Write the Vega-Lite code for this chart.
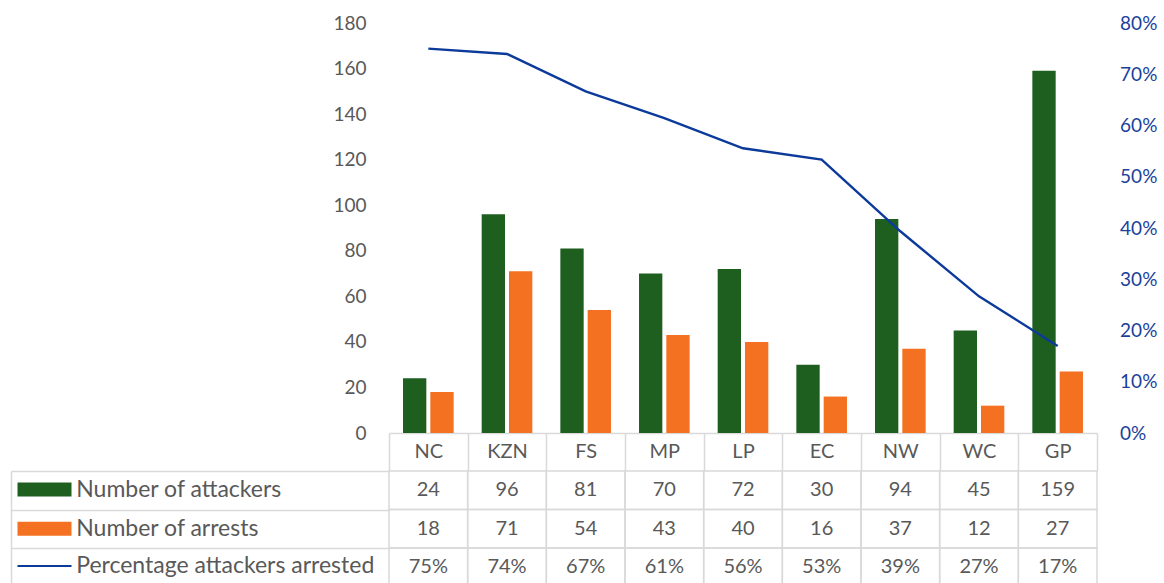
{
  "$schema": "https://vega.github.io/schema/vega-lite/v6.json",
  "padding": {"left": 10, "top": 14, "right": 5, "bottom": 0},
  "config": {"font": "Lato", "view": {"stroke": null}},
  "datasets": {
    "prov": [
      {"cat": "NC", "attackers": 24, "arrests": 18, "pct": 0.75},
      {"cat": "KZN", "attackers": 96, "arrests": 71, "pct": 0.7396},
      {"cat": "FS", "attackers": 81, "arrests": 54, "pct": 0.6667},
      {"cat": "MP", "attackers": 70, "arrests": 43, "pct": 0.6143},
      {"cat": "LP", "attackers": 72, "arrests": 40, "pct": 0.5556},
      {"cat": "EC", "attackers": 30, "arrests": 16, "pct": 0.5333},
      {"cat": "NW", "attackers": 94, "arrests": 37, "pct": 0.3936},
      {"cat": "WC", "attackers": 45, "arrests": 12, "pct": 0.2667},
      {"cat": "GP", "attackers": 159, "arrests": 27, "pct": 0.1698}
    ]
  },
  "spacing": 38,
  "bounds": "flush",
  "vconcat": [
    {
      "width": 708,
      "height": 410,
      "data": {"name": "prov"},
      "layer": [
        {
          "transform": [{"fold": ["attackers", "arrests"], "as": ["series", "count"]}],
          "mark": {"type": "bar"},
          "encoding": {
            "x": {
              "field": "cat", "type": "nominal", "sort": null,
              "scale": {"domain": ["NC", "KZN", "FS", "MP", "LP", "EC", "NW", "WC", "GP"], "paddingInner": 0, "paddingOuter": 0},
              "axis": {
                "title": null, "labelAngle": 0, "domainColor": "#d9d9d9", "domainWidth": 1.5,
                "tickBand": "extent", "tickSize": 38, "tickColor": "#d9d9d9", "tickWidth": 1.5,
                "labelFontSize": 20, "labelColor": "#595959", "labelBaseline": "middle", "labelPadding": -19.5
              }
            },
            "xOffset": {
              "field": "series", "type": "nominal",
              "scale": {"domain": ["attackers", "arrests"], "paddingInner": 0.146, "paddingOuter": 0.513}
            },
            "y": {
              "field": "count", "type": "quantitative",
              "scale": {"domain": [0, 180], "nice": false},
              "axis": {
                "title": null, "domain": false, "ticks": false, "grid": false,
                "values": [0, 20, 40, 60, 80, 100, 120, 140, 160, 180],
                "labelPadding": 23, "labelFontSize": 19, "labelColor": "#595959"
              }
            },
            "fill": {
              "field": "series", "type": "nominal",
              "scale": {"domain": ["attackers", "arrests"], "range": ["#1E5F20", "#F47121"]},
              "legend": {
                "orient": "none", "legendX": -356, "legendY": 455, "direction": "vertical",
                "title": null, "padding": 0,
                "symbolType": "M-3.857,-1H3.857V1H-3.857Z", "symbolSize": 196, "symbolStrokeWidth": 0,
                "labelFontSize": 23, "labelColor": "#595959", "labelOffset": 20.2, "rowPadding": 15.3,
                "labelLimit": 0,
                "labelExpr": "datum.value == 'attackers' ? 'Number of attackers' : 'Number of arrests'"
              }
            }
          }
        },
        {
          "mark": {"type": "line", "strokeWidth": 2.4},
          "encoding": {
            "x": {"field": "cat", "type": "nominal", "sort": null},
            "y": {
              "field": "pct", "type": "quantitative",
              "scale": {"domain": [0, 0.8], "nice": false},
              "axis": {
                "orient": "right", "title": null, "domain": false, "ticks": false, "grid": false,
                "values": [0, 0.1, 0.2, 0.3, 0.4, 0.5, 0.6, 0.7, 0.8], "format": ".0%",
                "labelPadding": 22.6, "labelFontSize": 19, "labelColor": "#1B3F9B"
              }
            },
            "stroke": {
              "datum": "Percentage attackers arrested", "type": "nominal",
              "scale": {"range": ["#0B3A9A"]},
              "legend": {
                "orient": "none", "legendX": -356, "legendY": 531.5, "direction": "vertical",
                "title": null, "padding": 0,
                "symbolType": "M-3.857,0H3.857", "symbolSize": 196, "symbolStrokeWidth": 2,
                "labelFontSize": 23, "labelColor": "#595959", "labelOffset": 20.2, "labelLimit": 0
              }
            }
          }
        }
      ],
      "resolve": {"scale": {"y": "independent"}}
    },
    {
      "width": 708,
      "height": 115.5,
      "data": {"name": "prov"},
      "layer": [
        {
          "transform": [{"fold": ["attackers", "arrests", "pct"], "as": ["row", "val"]}],
          "mark": {"type": "rect", "fillOpacity": 0, "stroke": "#d9d9d9", "strokeWidth": 1.5},
          "encoding": {
            "x": {
              "field": "cat", "type": "nominal", "sort": null,
              "scale": {"domain": ["NC", "KZN", "FS", "MP", "LP", "EC", "NW", "WC", "GP"], "paddingInner": 0, "paddingOuter": 0},
              "axis": null
            },
            "y": {
              "field": "row", "type": "nominal",
              "scale": {"domain": ["attackers", "arrests", "pct"], "paddingInner": 0, "paddingOuter": 0},
              "axis": {
                "title": null, "labels": false, "offset": 378,
                "domain": true, "domainColor": "#d9d9d9", "domainWidth": 1.5,
                "ticks": true, "tickBand": "extent", "tickSize": -378, "tickColor": "#d9d9d9", "tickWidth": 1.5,
                "grid": false
              }
            }
          }
        },
        {
          "mark": {"type": "text", "fontSize": 20, "color": "#595959"},
          "encoding": {
            "x": {"field": "cat", "type": "nominal", "sort": null},
            "y": {"datum": "attackers", "type": "nominal"},
            "text": {"field": "attackers", "type": "quantitative", "format": "d"}
          }
        },
        {
          "mark": {"type": "text", "fontSize": 20, "color": "#595959"},
          "encoding": {
            "x": {"field": "cat", "type": "nominal", "sort": null},
            "y": {"datum": "arrests", "type": "nominal"},
            "text": {"field": "arrests", "type": "quantitative", "format": "d"}
          }
        },
        {
          "mark": {"type": "text", "fontSize": 20, "color": "#595959"},
          "encoding": {
            "x": {"field": "cat", "type": "nominal", "sort": null},
            "y": {"datum": "pct", "type": "nominal"},
            "text": {"field": "pct", "type": "quantitative", "format": ".0%"}
          }
        }
      ]
    }
  ]
}
